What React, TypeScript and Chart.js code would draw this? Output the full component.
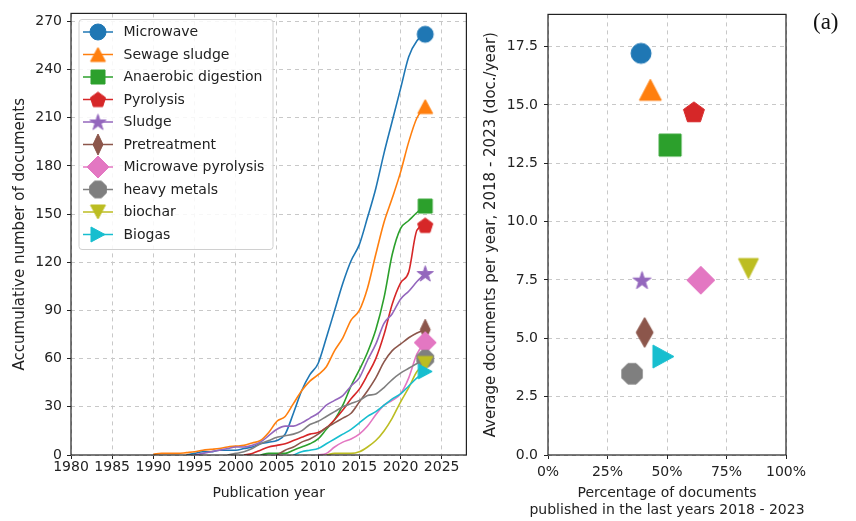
import React, { useEffect, useRef } from "react";
import { Chart, registerables } from "chart.js";

Chart.register(...registerables);

// ---------------- data ----------------
const SERIES = [
  "Microwave",
  "Sewage sludge",
  "Anaerobic digestion",
  "Pyrolysis",
  "Sludge",
  "Pretreatment",
  "Microwave pyrolysis",
  "heavy metals",
  "biochar",
  "Biogas",
];

// cumulative documents per year (first value belongs to the start year)
const MICROWAVE_START = 1994;
const MICROWAVE = [0, 1, 2, 2, 3, 3, 3, 4, 5, 7, 8, 9, 13, 26, 40, 50, 57, 73, 90, 107, 121, 131, 148, 166, 188, 208, 228, 248, 258, 262];
const SEWAGE_START = 1990;
const SEWAGE = [0.5, 1, 1, 1, 1.5, 2, 3, 3.5, 4, 5, 5.5, 6, 7.5, 9, 14, 21, 24, 32, 40, 46, 50, 55, 65, 73, 84, 90, 104, 125, 145, 160, 176, 195, 210, 217];
const ANAEROBIC_START = 2003;
const ANAEROBIC = [0, 1, 1, 1, 3, 5, 7, 10, 16, 22, 31, 43, 53, 64, 78, 98, 125, 141, 146, 151, 155];
const PYROLYSIS_START = 2001;
const PYROLYSIS = [0, 1, 3, 5, 6, 7, 9, 11, 13, 14, 17, 22, 28, 35, 41, 50, 60, 75, 94, 107, 114, 140, 143];
const SLUDGE_START = 1995;
const SLUDGE = [0, 1, 2, 3, 4, 5, 5, 6, 8, 12, 16, 18, 18, 20, 23, 26, 31, 34, 37, 43, 48, 59, 69, 82, 88, 97, 102, 108, 113];
const PRETREATMENT_START = 2005;
const PRETREATMENT = [0, 3, 5, 8, 10, 13, 17, 20, 23, 26, 33, 40, 48, 58, 65, 69, 73, 76, 78];
const MW_PYROLYSIS_START = 2010;
const MW_PYROLYSIS = [0, 1, 5, 8, 10, 13, 18, 25, 31, 34, 38, 48, 63, 70];
const HEAVY_METALS_START = 1999;
const HEAVY_METALS = [0, 1, 2, 4, 7, 9, 11, 12, 13, 15, 19, 21, 24, 27, 30, 32, 34, 37, 38, 42, 47, 51, 54, 57, 60];
const BIOCHAR_START = 2011;
const BIOCHAR = [0, 1, 1, 1, 2, 5, 9, 15, 23, 33, 42, 52, 57];
const BIOGAS_START = 2007;
const BIOGAS = [0, 2, 3, 4, 7, 10, 13, 16, 20, 24, 27, 31, 35, 38, 43, 48, 52];

const LINE_STARTS = [MICROWAVE_START, SEWAGE_START, ANAEROBIC_START, PYROLYSIS_START, SLUDGE_START, PRETREATMENT_START, MW_PYROLYSIS_START, HEAVY_METALS_START, BIOCHAR_START, BIOGAS_START];
const LINE_VALUES = [MICROWAVE, SEWAGE, ANAEROBIC, PYROLYSIS, SLUDGE, PRETREATMENT, MW_PYROLYSIS, HEAVY_METALS, BIOCHAR, BIOGAS];

// share of documents published 2018-2023 and average documents per year in that period
const SHARE_RECENT = [0.391, 0.43, 0.513, 0.613, 0.395, 0.406, 0.642, 0.353, 0.842, 0.485];
const AVG_PER_YEAR = [17.21, 15.65, 13.28, 14.7, 7.49, 5.25, 7.49, 3.48, 7.99, 4.22];

const LEFT_X_TICKS = [1980, 1985, 1990, 1995, 2000, 2005, 2010, 2015, 2020, 2025];
const LEFT_Y_TICKS = [0, 30, 60, 90, 120, 150, 180, 210, 240, 270];
const RIGHT_X_TICKS = [0, 0.25, 0.5, 0.75, 1];
const RIGHT_Y_TICKS = [0, 2.5, 5, 7.5, 10, 12.5, 15, 17.5];

const RIGHT_X_TITLE = ["Percentage of documents", "published in the last years 2018 - 2023"];

// ---------------- styles ----------------
const COLORS = ["#1f77b4", "#ff7f0e", "#2ca02c", "#d62728", "#9467bd", "#8c564b", "#e377c2", "#7f7f7f", "#bcbd22", "#17becf"];
const MARKERS = ["circle", "triangleUp", "square", "pentagon", "star", "diamond", "diamond", "octagon", "triangleDown", "triangleRight"];
const LEFT_SIZES = [[16, 16], [15, 14], [14, 14], [16, 16], [17, 17], [10, 21], [22, 22], [18, 18], [15, 14], [14, 15]];
const RIGHT_SIZES = [[20, 20], [22, 21], [22, 22], [22, 22], [19, 19], [17, 30], [28, 28], [22, 22], [20, 20], [21, 23]];

const FONT_FAMILY = "'DejaVu Sans', sans-serif";
const TEXT = "#222222";
const GRID = "#c8c8c8";

function markerCanvas(kind: string, color: string, w: number, h: number): HTMLCanvasElement {
  const pad = 2;
  const W = Math.ceil(w) + pad * 2;
  const H = Math.ceil(h) + pad * 2;
  const c = document.createElement("canvas");
  c.width = W;
  c.height = H;
  const g = c.getContext("2d") as CanvasRenderingContext2D;
  const cx = W / 2;
  const cy = H / 2;
  const rx = w / 2;
  const ry = h / 2;
  g.beginPath();
  const poly = (n: number, start: number, r: number, dy: number) => {
    for (let k = 0; k < n; k++) {
      const a = start + (k * 2 * Math.PI) / n;
      const x = cx + r * Math.cos(a);
      const y = cy + dy + r * Math.sin(a);
      if (k === 0) g.moveTo(x, y);
      else g.lineTo(x, y);
    }
    g.closePath();
  };
  switch (kind) {
    case "circle":
      g.ellipse(cx, cy, rx, ry, 0, 0, Math.PI * 2);
      break;
    case "square":
      g.rect(cx - rx, cy - ry, w, h);
      break;
    case "triangleUp":
      g.moveTo(cx, cy - ry);
      g.lineTo(cx + rx, cy + ry);
      g.lineTo(cx - rx, cy + ry);
      g.closePath();
      break;
    case "triangleDown":
      g.moveTo(cx, cy + ry);
      g.lineTo(cx + rx, cy - ry);
      g.lineTo(cx - rx, cy - ry);
      g.closePath();
      break;
    case "triangleRight":
      g.moveTo(cx + rx, cy);
      g.lineTo(cx - rx, cy - ry);
      g.lineTo(cx - rx, cy + ry);
      g.closePath();
      break;
    case "diamond":
      g.moveTo(cx, cy - ry);
      g.lineTo(cx + rx, cy);
      g.lineTo(cx, cy + ry);
      g.lineTo(cx - rx, cy);
      g.closePath();
      break;
    case "pentagon":
      poly(5, -Math.PI / 2, rx, rx * 0.08);
      break;
    case "octagon":
      poly(8, Math.PI / 8, rx, 0);
      break;
    case "star": {
      const inner = rx * 0.382;
      for (let k = 0; k < 10; k++) {
        const a = -Math.PI / 2 + (k * Math.PI) / 5;
        const r = k % 2 === 0 ? rx : inner;
        const x = cx + r * Math.cos(a);
        const y = cy + r * Math.sin(a) + rx * 0.08;
        if (k === 0) g.moveTo(x, y);
        else g.lineTo(x, y);
      }
      g.closePath();
      break;
    }
  }
  g.fillStyle = color;
  g.fill();
  g.lineWidth = 1;
  g.strokeStyle = color;
  g.stroke();
  return c;
}

const framePlugin = {
  id: "mplFrame",
  afterDraw(chart: any) {
    const { ctx, chartArea: a } = chart;
    ctx.save();
    ctx.strokeStyle = "#222222";
    ctx.lineWidth = 1.2;
    ctx.strokeRect(a.left, a.top, a.right - a.left, a.bottom - a.top);
    ctx.restore();
  },
};

function makeLegendPlugin(markers: HTMLCanvasElement[]) {
  return {
    id: "mplLegend",
    afterDraw(chart: any) {
      const ctx = chart.ctx as CanvasRenderingContext2D;
      const x0 = 79, y0 = 19.5, w = 194, h = 230;
      ctx.save();
      ctx.beginPath();
      const r = 3;
      ctx.moveTo(x0 + r, y0);
      ctx.lineTo(x0 + w - r, y0);
      ctx.quadraticCurveTo(x0 + w, y0, x0 + w, y0 + r);
      ctx.lineTo(x0 + w, y0 + h - r);
      ctx.quadraticCurveTo(x0 + w, y0 + h, x0 + w - r, y0 + h);
      ctx.lineTo(x0 + r, y0 + h);
      ctx.quadraticCurveTo(x0, y0 + h, x0, y0 + h - r);
      ctx.lineTo(x0, y0 + r);
      ctx.quadraticCurveTo(x0, y0, x0 + r, y0);
      ctx.closePath();
      ctx.fillStyle = "rgba(255,255,255,0.85)";
      ctx.fill();
      ctx.strokeStyle = "#d0d0d0";
      ctx.lineWidth = 1;
      ctx.stroke();
      ctx.font = `14px ${FONT_FAMILY}`;
      ctx.textBaseline = "middle";
      ctx.textAlign = "left";
      SERIES.forEach((name, i) => {
        const cy = 32 + i * 22.5;
        ctx.strokeStyle = COLORS[i];
        ctx.lineWidth = 1.5;
        ctx.beginPath();
        ctx.moveTo(83, cy);
        ctx.lineTo(113, cy);
        ctx.stroke();
        const m = markers[i];
        ctx.drawImage(m, 98 - m.width / 2, cy - m.height / 2);
        ctx.fillStyle = TEXT;
        ctx.fillText(name, 123.5, cy + 0.5);
      });
      ctx.restore();
    },
  };
}

const rightTextPlugin = {
  id: "rightTexts",
  afterDraw(chart: any) {
    const ctx = chart.ctx as CanvasRenderingContext2D;
    const a = chart.chartArea;
    ctx.save();
    // x-axis title (two lines, not width-limited)
    ctx.font = `14px ${FONT_FAMILY}`;
    ctx.fillStyle = TEXT;
    ctx.textBaseline = "middle";
    ctx.textAlign = "center";
    const cx = (a.left + a.right) / 2;
    RIGHT_X_TITLE.forEach((line, i) => ctx.fillText(line, cx, 493 + i * 17));
    // panel label
    ctx.font = "23px 'Liberation Serif', serif";
    ctx.fillStyle = "#111111";
    ctx.textAlign = "left";
    ctx.fillText("(a)", 337, 23);
    ctx.restore();
  },
};

const font = { family: FONT_FAMILY, size: 14 };
const titleFontY = { family: FONT_FAMILY, size: 15 };

function LeftChart() {
  const ref = useRef<HTMLCanvasElement>(null);
  useEffect(() => {
    if (!ref.current) return;
    const markers = SERIES.map((_, i) => markerCanvas(MARKERS[i], COLORS[i], LEFT_SIZES[i][0], LEFT_SIZES[i][1]));
    const datasets = SERIES.map((name, i) => {
      const vals = LINE_VALUES[i];
      return {
        label: name,
        data: vals.map((v, k) => ({ x: LINE_STARTS[i] + k, y: v })),
        borderColor: COLORS[i],
        backgroundColor: COLORS[i],
        borderWidth: 1.6,
        pointStyle: markers[i],
        pointRadius: (c: any) => (c.dataIndex === vals.length - 1 ? 8 : 0),
        pointHoverRadius: 0,
        cubicInterpolationMode: "monotone",
        fill: false,
        order: SERIES.length - i,
      };
    });
    const chart = new Chart(ref.current, {
      type: "line",
      data: { datasets } as any,
      options: {
        animation: false,
        responsive: false,
        devicePixelRatio: 1,
        events: [],
        layout: { padding: { left: 0, top: 12, right: 7, bottom: 0 } },
        plugins: { legend: { display: false }, tooltip: { enabled: false } },
        scales: {
          x: {
            type: "linear",
            min: 1980,
            max: 2028,
            afterBuildTicks: (s: any) => {
              s.ticks = LEFT_X_TICKS.map((v) => ({ value: v }));
            },
            afterFit: (s: any) => {
              s.height = 66;
            },
            ticks: { font, color: TEXT, padding: 0, maxRotation: 0, autoSkip: false, callback: (v: any) => String(v) },
            grid: { color: GRID, lineWidth: 1, tickLength: 4, tickColor: "#222222", tickWidth: 1 },
            border: { display: false, dash: [4, 4] },
            title: { display: true, text: "Publication year", font, color: TEXT, padding: { top: 0, bottom: 19.6 } },
          },
          y: {
            type: "linear",
            min: 0,
            max: 275,
            afterBuildTicks: (s: any) => {
              s.ticks = LEFT_Y_TICKS.map((v) => ({ value: v }));
            },
            afterFit: (s: any) => {
              s.width = 71;
            },
            ticks: { font, color: TEXT, padding: 5, autoSkip: false, callback: (v: any) => String(v) },
            grid: { color: GRID, lineWidth: 1, tickLength: 4, tickColor: "#222222", tickWidth: 1 },
            border: { display: false, dash: [4, 4] },
            title: { display: true, text: "Accumulative number of documents", font: titleFontY, color: TEXT, padding: { top: 11, bottom: 0 } },
          },
        },
      } as any,
      plugins: [framePlugin, makeLegendPlugin(markers)],
    });
    return () => chart.destroy();
  }, []);
  return <canvas ref={ref} width={476} height={521} style={{ position: "absolute", left: 0, top: 0, width: 476, height: 521 }} />;
}

function RightChart() {
  const ref = useRef<HTMLCanvasElement>(null);
  useEffect(() => {
    if (!ref.current) return;
    const markers = SERIES.map((_, i) => markerCanvas(MARKERS[i], COLORS[i], RIGHT_SIZES[i][0], RIGHT_SIZES[i][1]));
    const datasets = SERIES.map((name, i) => ({
      label: name,
      data: [{ x: SHARE_RECENT[i], y: AVG_PER_YEAR[i] }],
      borderColor: COLORS[i],
      backgroundColor: COLORS[i],
      pointStyle: markers[i],
      pointRadius: 10,
      pointHoverRadius: 0,
      order: SERIES.length - i,
    }));
    const chart = new Chart(ref.current, {
      type: "scatter",
      data: { datasets } as any,
      options: {
        animation: false,
        responsive: false,
        devicePixelRatio: 1,
        events: [],
        layout: { padding: { left: 0, top: 12, right: 70, bottom: 0 } },
        plugins: { legend: { display: false }, tooltip: { enabled: false } },
        scales: {
          x: {
            type: "linear",
            min: 0,
            max: 1,
            afterBuildTicks: (s: any) => {
              s.ticks = RIGHT_X_TICKS.map((v) => ({ value: v }));
            },
            afterFit: (s: any) => {
              s.height = 66;
            },
            ticks: { font, color: TEXT, padding: 5, maxRotation: 0, autoSkip: false, callback: (v: any) => `${Math.round(v * 100)}%` },
            grid: { color: GRID, lineWidth: 1, tickLength: 4, tickColor: "#222222", tickWidth: 1 },
            border: { display: false, dash: [4, 4] },
            title: { display: false },
          },
          y: {
            type: "linear",
            min: 0,
            max: 18.88,
            afterBuildTicks: (s: any) => {
              s.ticks = RIGHT_Y_TICKS.map((v) => ({ value: v }));
            },
            afterFit: (s: any) => {
              s.width = 72;
            },
            ticks: { font, color: TEXT, padding: 6, autoSkip: false, callback: (v: any) => Number(v).toFixed(1) },
            grid: { color: GRID, lineWidth: 1, tickLength: 4, tickColor: "#222222", tickWidth: 1 },
            border: { display: false, dash: [4, 4] },
            title: {
              display: true,
              text: "Average documents per year, 2018 - 2023 (doc./year)",
              font: titleFontY,
              color: TEXT,
              padding: { top: 6.5, bottom: 0 },
            },
          },
        },
      } as any,
      plugins: [framePlugin, rightTextPlugin],
    });
    return () => chart.destroy();
  }, []);
  return <canvas ref={ref} width={380} height={521} style={{ position: "absolute", left: 476, top: 0, width: 380, height: 521 }} />;
}

export default function App() {
  return (
    <div style={{ position: "absolute", left: 0, top: 0, width: 856, height: 521, background: "#ffffff", overflow: "hidden" }}>
      <LeftChart />
      <RightChart />
    </div>
  );
}
